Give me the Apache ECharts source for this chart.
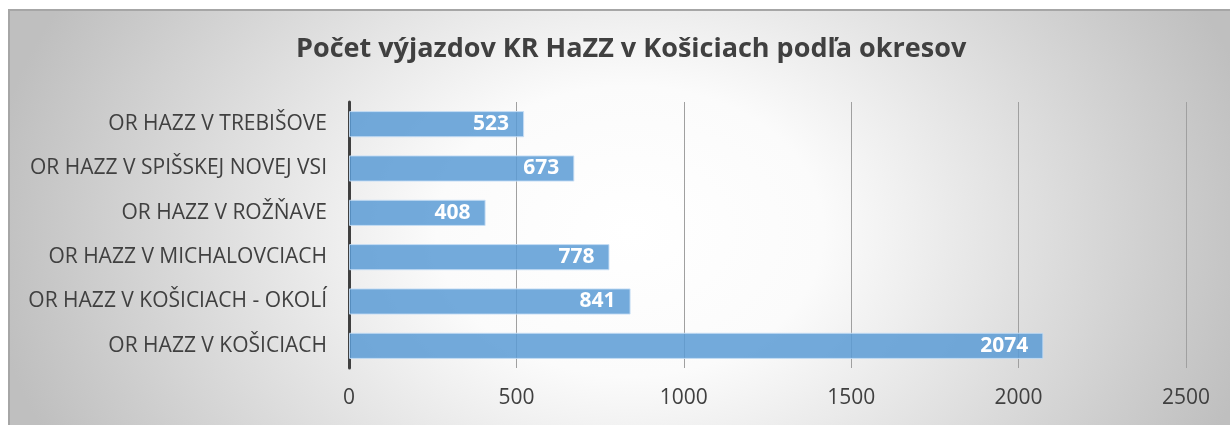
<!DOCTYPE html>
<html>
<head>
<meta charset="utf-8">
<script src="https://cdn.jsdelivr.net/npm/echarts@6/dist/echarts.min.js"></script>
<style>
  html, body { margin: 0; padding: 0; background: #fff; overflow: hidden; }
  .frame {
    position: absolute; left: 8px; top: 9px; width: 1240px; height: 440px;
    border: 2px solid #a6a6a6;
    background: radial-gradient(ellipse 52% 110% at 50% 50%, #ffffff 0%, #fbfbfb 30%, #bfbfbf 100%);
  }
  #chart { position: absolute; left: 0; top: 0; width: 1230px; height: 425px; }
</style>
</head>
<body>
<div class="frame"></div>
<div id="chart"></div>
<script>
var categories = ['OR HAZZ V TREBIŠOVE', 'OR HAZZ V SPIŠSKEJ NOVEJ VSI', 'OR HAZZ V ROŽŇAVE', 'OR HAZZ V MICHALOVCIACH', 'OR HAZZ V KOŠICIACH - OKOLÍ', 'OR HAZZ V KOŠICIACH'] // zhora nadol
var values = [523, 673, 408, 778, 841, 2074]
var titleText = 'Počet výjazdov KR HaZZ v Košiciach podľa okresov'

var MyChart = echarts.init(document.getElementById('chart'))
var option = {
  backgroundColor: 'transparent',
  animation: false,
  textStyle: { fontFamily: 'Open Sans' },
  title: {
    text: titleText,
    left: 291,
    top: 31,
    textStyle: { fontFamily: 'Open Sans', fontWeight: 'bold', fontSize: 27, color: '#404040' }
  },
  grid: { left: 349, right: 44, top: 102, bottom: 57, containLabel: false },
  xAxis: {
    type: 'value',
    min: 0,
    max: 2500,
    interval: 500,
    axisLine: { show: false },
    axisTick: { show: false },
    axisLabel: { color: '#404040', fontSize: 21, margin: 20, formatter: function (v) { return String(v) } },
    splitLine: { lineStyle: { color: '#a0a0a0', width: 1 } }
  },
  yAxis: {
    type: 'category',
    data: categories,
    inverse: true,
    axisLine: { lineStyle: { color: '#404040', width: 3 } },
    axisTick: { show: false },
    axisLabel: { color: '#404040', fontSize: 21, margin: 22 }
  },
  series: [
    {
      type: 'bar',
      data: values,
      barWidth: '59%',
      itemStyle: { color: 'rgba(91,155,213,0.85)', borderColor: 'rgba(200,222,245,0.9)', borderWidth: 1 },
      label: {
        show: true,
        position: 'insideRight',
        distance: 15,
        color: '#fff',
        fontWeight: 'bold',
        fontSize: 21
      }
    }
  ]
}
MyChart.setOption(option)
</script>
</body>
</html>
